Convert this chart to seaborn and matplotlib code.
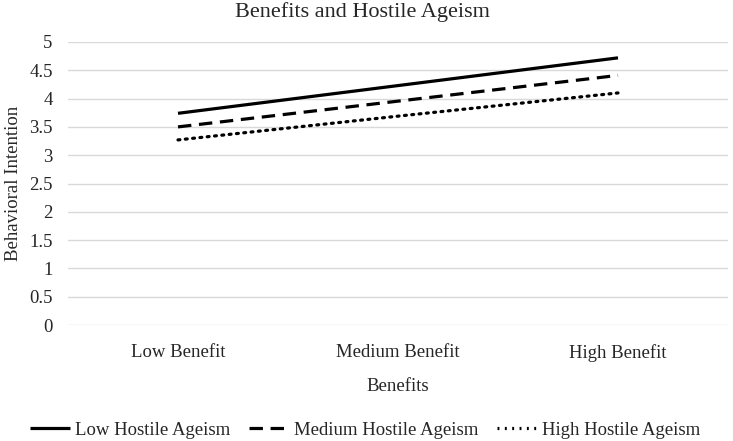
import pandas as pd
import seaborn as sns
import matplotlib.pyplot as plt

# values
benefits = ['Low Benefit', 'Medium Benefit', 'High Benefit']
low_hostile = [3.74, 4.23, 4.72]
medium_hostile = [3.50, 3.955, 4.41]
high_hostile = [3.27, 3.69, 4.10]
series_names = ['Low Hostile Ageism', 'Medium Hostile Ageism', 'High Hostile Ageism']

df = pd.DataFrame({
    'Benefits': benefits * 3,
    'Behavioral Intention': low_hostile + medium_hostile + high_hostile,
    'Ageism': [s for s in series_names for _ in benefits],
})
df['x'] = df['Benefits'].map({b: i for i, b in enumerate(benefits)})

sns.set_style('white')
plt.rcParams['font.family'] = ['Liberation Serif', 'DejaVu Serif']

W, H = 733, 441
fs = 13.5
fig = plt.figure(figsize=(W / 100, H / 100), dpi=100)
ax = fig.add_axes([68 / W, 1 - 325 / H, 660 / W, 283 / H])

sns.lineplot(data=df, x='x', y='Behavioral Intention', hue='Ageism', style='Ageism',
             palette=['black'] * 3, dashes=[(1, 0), (4.2, 2.4), (0.6, 1.7)],
             linewidth=2.3, ax=ax, legend=True)
for ln in ax.get_lines():
    ln.set_dash_capstyle('butt')
ax.get_lines()[2].set_dash_capstyle('round')

ax.set_xlim(-0.5, 2.5)
ax.set_ylim(0, 5)
ax.set_yticks([i * 0.5 for i in range(11)])
ax.set_yticklabels(['0', '0.5', '1', '1.5', '2', '2.5', '3', '3.5', '4', '4.5', '5'])
ax.set_xticks(range(3))
ax.set_xticklabels(benefits)
ax.tick_params(axis='x', length=0, pad=14, labelsize=fs)
ax.tick_params(axis='y', length=0, pad=11, labelsize=fs)
ax.grid(axis='y', color='#d9d9d9', linewidth=1)
ax.set_axisbelow(True)
for s in ax.spines.values():
    s.set_visible(False)

ax.set_xlabel('Benefits', fontsize=fs, labelpad=11)
ax.set_ylabel('Behavioral Intention', fontsize=fs, labelpad=5)

fig.text(362 / W, 1 - 12 / H, 'Benefits and Hostile Ageism', ha='center', va='center', fontsize=16)

handles, labels = ax.get_legend_handles_labels()
ax.get_legend().remove()
fig.legend(handles, labels, loc='center', bbox_to_anchor=(365 / W, 1 - 430 / H), ncol=3,
           frameon=False, fontsize=fs, handlelength=2.15, columnspacing=1.0, handletextpad=0.25)

fig.savefig('out.png', dpi=100)
